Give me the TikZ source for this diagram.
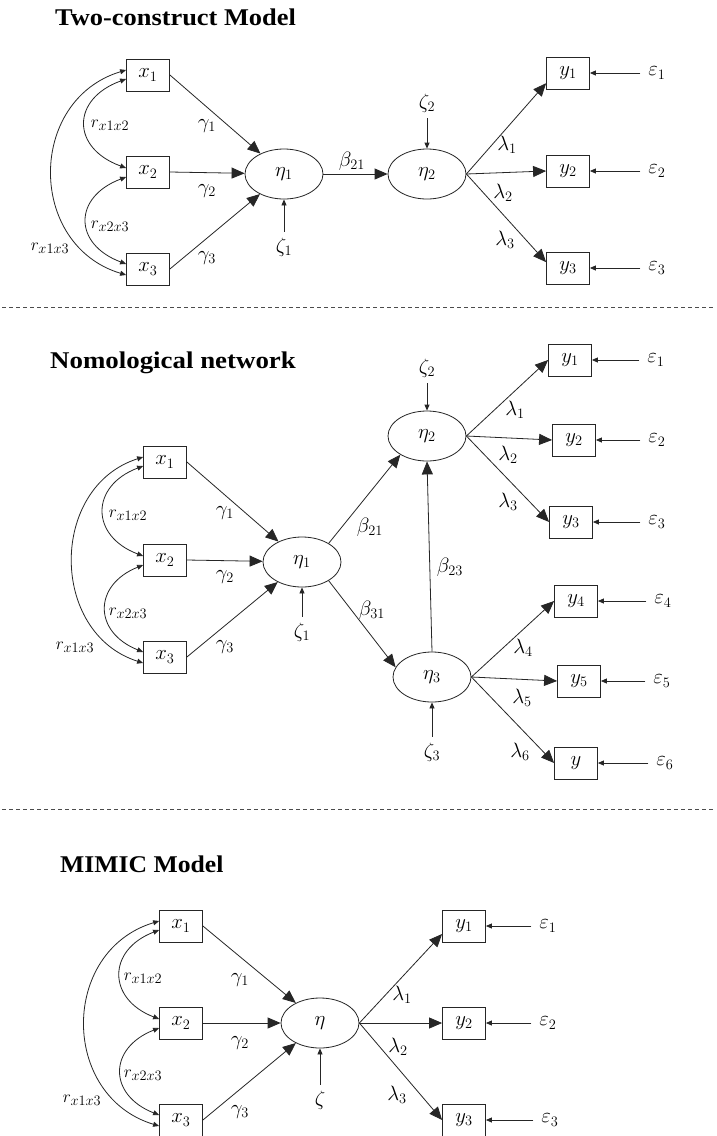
\documentclass[tikz,border=0pt]{standalone}
\usepackage{fontspec}
\setmainfont{Liberation Serif}
\usetikzlibrary{arrows.meta,shapes.geometric}
\DeclareMathSizes{20}{20}{15}{11}
\DeclareMathSizes{19}{19}{14}{10}

\tikzset{
  ink/.style={draw=black!85, line width=0.8pt},
  obs/.style={ink, rectangle, minimum width=43pt, minimum height=32pt, inner sep=0pt,
              font=\fontsize{20}{22}\selectfont},
  lat/.style={ink, ellipse, minimum width=78pt, minimum height=50pt, inner sep=0pt,
              font=\fontsize{20}{22}\selectfont},
  lbl/.style={inner sep=1pt, font=\fontsize{20}{22}\selectfont},
  rlbl/.style={inner sep=1pt, font=\fontsize{19}{21}\selectfont},
  errlbl/.style={inner xsep=8pt, inner ysep=2pt, font=\fontsize{20}{22}\selectfont},
  zlbl/.style={inner xsep=2pt, inner ysep=6pt, font=\fontsize{20}{22}\selectfont},
  heading/.style={anchor=base west, inner sep=0pt, font=\bfseries\fontsize{24}{28}\selectfont},
  path/.style={ink, -{Triangle[length=13pt,width=11pt]}},
  err/.style={ink, -{Triangle[length=6pt,width=5pt]}},
  cov/.style={ink, {Triangle[length=6pt,width=5pt]}-{Triangle[length=6pt,width=5pt]}},
  sep/.style={draw=black!70, line width=0.8pt, dash pattern=on 4pt off 3pt}
}

\begin{document}
\begin{tikzpicture}[x=1pt, y=-1pt]
\fill[white] (0,0) rectangle (717,1136);
\useasboundingbox (0,0) rectangle (717,1136);

% ---------------- Two-construct model ----------------
\node[heading] (t1) at (55,25) {\scalebox{1.1}[1]{Two-construct Model}};

\node[obs] (ax1) at (148,75)  {$x_1$};
\node[obs] (ax2) at (148,172) {$x_2$};
\node[obs] (ax3) at (148,269) {$x_3$};
\node[lat] (aeta1) at (284,174) {$\eta_1$};
\node[lat] (aeta2) at (427,174) {$\eta_2$};
\node[zlbl] (az1) at (284,247) {$\zeta_1$};
\node[zlbl] (az2) at (427,103) {$\zeta_2$};
\node[obs] (ay1) at (568,73)  {$y_1$};
\node[obs] (ay2) at (568,171) {$y_2$};
\node[obs] (ay3) at (568,268) {$y_3$};
\node[errlbl] (ae1) at (657,73)  {$\varepsilon_1$};
\node[errlbl] (ae2) at (657,171) {$\varepsilon_2$};
\node[errlbl] (ae3) at (657,268) {$\varepsilon_3$};

\node[lbl] at (207,126) {$\gamma_1$};
\node[lbl] at (207,191) {$\gamma_2$};
\node[lbl] at (207,258) {$\gamma_3$};
\node[rlbl] at (110,125) {$r_{x1x2}$};
\node[rlbl] at (110,226) {$r_{x2x3}$};
\node[rlbl] at (50,248)  {$r_{x1x3}$};
\node[lbl] at (352,161) {$\beta_{21}$};
\node[lbl] at (507,145) {$\lambda_1$};
\node[lbl] at (503,193) {$\lambda_2$};
\node[lbl] at (505,240) {$\lambda_3$};

\draw[path] (ax1.east) -- (aeta1);
\draw[path] (ax2.east) -- (aeta1);
\draw[path] (ax3.east) -- (aeta1);
\draw[path] (aeta1) -- (aeta2);
\draw[path] (aeta2.east) -- (ay1.205);
\draw[path] (aeta2.east) -- (ay2.west);
\draw[path] (aeta2.east) -- (ay3.165);
\draw[err] (az1) -- (aeta1);
\draw[err] (az2) -- (aeta2);
\draw[err] (ae1) -- (ay1);
\draw[err] (ae2) -- (ay2);
\draw[err] (ae3) -- (ay3);
\draw[cov] ([yshift=-4pt]ax1.west) .. controls +(-55,20) and +(-55,-20) .. ([yshift=4pt]ax2.west);
\draw[cov] ([yshift=-5pt]ax2.west) .. controls +(-53,20) and +(-53,-20) .. ([yshift=5pt]ax3.west);
\draw[cov] ([yshift=5pt]ax1.west) .. controls +(-99,30) and +(-99,-30) .. ([yshift=-6pt]ax3.west);

\draw[sep] (2,307) -- (715,307);

% ---------------- Nomological network ----------------
\node[heading] (t2) at (50,368) {\scalebox{1.12}[1]{Nomological network}};

\node[obs] (bx1) at (165,462) {$x_1$};
\node[obs] (bx2) at (165,560) {$x_2$};
\node[obs] (bx3) at (165,657) {$x_3$};
\node[lat] (beta1) at (302,562) {$\eta_1$};
\node[lat] (beta2) at (427,436) {$\eta_2$};
\node[lat] (beta3) at (432,677) {$\eta_3$};
\node[zlbl] (bz1) at (302,632) {$\zeta_1$};
\node[zlbl] (bz2) at (427,368) {$\zeta_2$};
\node[zlbl] (bz3) at (432,752) {$\zeta_3$};
\node[obs] (by1) at (570,360) {$y_1$};
\node[obs] (by2) at (574,440) {$y_2$};
\node[obs] (by3) at (571,522) {$y_3$};
\node[obs] (by4) at (576,601) {$y_4$};
\node[obs] (by5) at (579,681) {$y_5$};
\node[obs] (by6) at (576,763) {$y$};
\node[errlbl] (be1) at (656,360) {$\varepsilon_1$};
\node[errlbl] (be2) at (657,440) {$\varepsilon_2$};
\node[errlbl] (be3) at (657,522) {$\varepsilon_3$};
\node[errlbl] (be4) at (663,601) {$\varepsilon_4$};
\node[errlbl] (be5) at (662,681) {$\varepsilon_5$};
\node[errlbl] (be6) at (665,763) {$\varepsilon_6$};

\node[lbl] at (225,513) {$\gamma_1$};
\node[lbl] at (225,577) {$\gamma_2$};
\node[lbl] at (225,647) {$\gamma_3$};
\node[rlbl] at (128,515) {$r_{x1x2}$};
\node[rlbl] at (128,613) {$r_{x2x3}$};
\node[rlbl] at (75,647)  {$r_{x1x3}$};
\node[lbl] at (370,527) {$\beta_{21}$};
\node[lbl] at (372,610) {$\beta_{31}$};
\node[lbl] at (450,567) {$\beta_{23}$};
\node[lbl] at (515,410) {$\lambda_1$};
\node[lbl] at (508,455) {$\lambda_2$};
\node[lbl] at (508,502) {$\lambda_3$};
\node[lbl] at (523,648) {$\lambda_4$};
\node[lbl] at (522,698) {$\lambda_5$};
\node[lbl] at (520,752) {$\lambda_6$};

\draw[path] (bx1.east) -- (beta1);
\draw[path] (bx2.east) -- (beta1);
\draw[path] (bx3.east) -- (beta1);
\draw[path] (beta1.35) -- (beta2.215);
\draw[path] (beta1.325) -- (beta3.165);
\draw[path] (beta3.north) -- (beta2.south);
\draw[path] (beta2.east) -- (by1.west);
\draw[path] (beta2.east) -- (by2.west);
\draw[path] (beta2.east) -- (by3.west);
\draw[path] (beta3.east) -- (by4.west);
\draw[path] (beta3.east) -- (by5.west);
\draw[path] (beta3.east) -- (by6.west);
\draw[err] (bz1) -- (beta1);
\draw[err] (bz2) -- (beta2);
\draw[err] (bz3) -- (beta3);
\draw[err] (be1) -- (by1);
\draw[err] (be2) -- (by2);
\draw[err] (be3) -- (by3);
\draw[err] (be4) -- (by4);
\draw[err] (be5) -- (by5);
\draw[err] (be6) -- (by6);
\draw[cov] ([yshift=-4pt]bx1.west) .. controls +(-53,20) and +(-53,-20) .. ([yshift=4pt]bx2.west);
\draw[cov] ([yshift=-5pt]bx2.west) .. controls +(-50,20) and +(-50,-20) .. ([yshift=5pt]bx3.west);
\draw[cov] ([yshift=5pt]bx1.west) .. controls +(-94,30) and +(-94,-30) .. ([yshift=-6pt]bx3.west);

\draw[sep] (2,809) -- (715,809);

% ---------------- MIMIC model ----------------
\node[heading] (t3) at (60,872) {\scalebox{1.07}[1]{MIMIC Model}};

\node[obs] (cx1) at (181,926)  {$x_1$};
\node[obs] (cx2) at (181,1023) {$x_2$};
\node[obs] (cx3) at (181,1120) {$x_3$};
\node[lat] (ceta) at (320,1023) {$\eta$};
\node[zlbl] (cz) at (320,1100) {$\zeta$};
\node[obs] (cy1) at (464,926)  {$y_1$};
\node[obs] (cy2) at (464,1023) {$y_2$};
\node[obs] (cy3) at (464,1120) {$y_3$};
\node[errlbl] (ce1) at (548,926)  {$\varepsilon_1$};
\node[errlbl] (ce2) at (548,1023) {$\varepsilon_2$};
\node[errlbl] (ce3) at (550,1120) {$\varepsilon_3$};

\node[lbl] at (240,980)  {$\gamma_1$};
\node[lbl] at (240,1043) {$\gamma_2$};
\node[lbl] at (240,1112) {$\gamma_3$};
\node[rlbl] at (143,978)  {$r_{x1x2}$};
\node[rlbl] at (143,1075) {$r_{x2x3}$};
\node[rlbl] at (82,1100)  {$r_{x1x3}$};
\node[lbl] at (402,995)  {$\lambda_1$};
\node[lbl] at (398,1047) {$\lambda_2$};
\node[lbl] at (397,1095) {$\lambda_3$};

\draw[path] (cx1.east) -- (ceta);
\draw[path] (cx2.east) -- (ceta);
\draw[path] (cx3.east) -- (ceta);
\draw[path] (ceta.east) -- (cy1.200);
\draw[path] (ceta.east) -- (cy2.west);
\draw[path] (ceta.east) -- (cy3.west);
\draw[err] (cz) -- (ceta);
\draw[err] (ce1) -- (cy1);
\draw[err] (ce2) -- (cy2);
\draw[err] (ce3) -- (cy3);
\draw[cov] ([yshift=-4pt]cx1.west) .. controls +(-52,20) and +(-52,-20) .. ([yshift=4pt]cx2.west);
\draw[cov] ([yshift=-5pt]cx2.west) .. controls +(-51,20) and +(-51,-20) .. ([yshift=5pt]cx3.west);
\draw[cov] ([yshift=5pt]cx1.west) .. controls +(-99,30) and +(-99,-30) .. ([yshift=-6pt]cx3.west);
\end{tikzpicture}
\end{document}
